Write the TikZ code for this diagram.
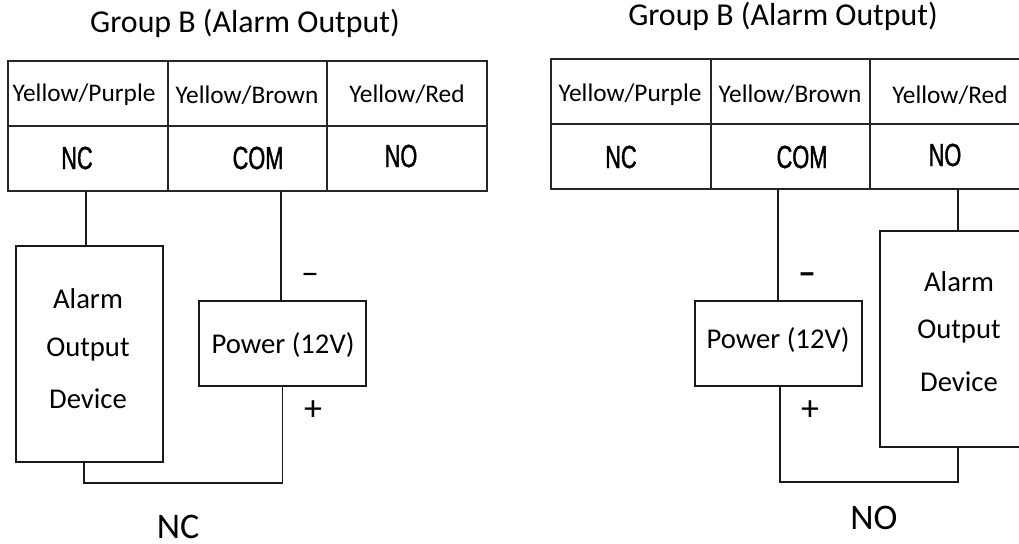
\documentclass[tikz,border=0pt]{standalone}
\usepackage{fontspec}
\setmainfont{Carlito}
\newfontfamily\pinfont[FakeStretch=0.68,FakeBold=1.2]{Liberation Sans}
\tikzset{
    wire/.style={line width=1.4pt,color=black!90},
    cellbox/.style={draw,line width=1.3pt,color=black!85,text=black,inner sep=0pt,outer sep=0pt,minimum width=119.5pt,minimum height=48.75pt},
    devicebox/.style={draw,line width=1.3pt,color=black!90,text=black,inner sep=0pt,outer sep=0pt},
    alarmbox/.style={devicebox,minimum width=110.25pt,minimum height=162pt},
    powerbox/.style={devicebox,minimum width=125.25pt,minimum height=63.75pt},
    wirename/.style={font=\fontsize{19pt}{22pt}\selectfont,inner sep=0pt},
    pinname/.style={font=\fontsize{24pt}{28pt}\pinfont,inner sep=0pt},
    titlename/.style={font=\fontsize{23.9pt}{28pt}\selectfont,inner sep=0pt},
    modename/.style={font=\fontsize{27pt}{30pt}\selectfont,inner sep=0pt},
    signname/.style={font=\fontsize{27pt}{30pt}\selectfont,inner sep=0pt},
    devicename/.style={font=\fontsize{21.5pt}{25pt}\selectfont,inner sep=0pt}
}
\begin{document}
\begin{tikzpicture}[x=0.75pt,y=0.75pt,yscale=-1,xscale=1]
    \useasboundingbox (0,0) rectangle (1019,543);
    \clip (0,0) rectangle (1019,543);

    % Left table
    \node [cellbox] (cellPurpleA) at (88,93.5) {};
    \node [cellbox] (cellBrownA) at (247.5,93.5) {};
    \node [cellbox] (cellRedA) at (407,93.5) {};
    \node [cellbox] (cellNCA) at (88,158.5) {};
    \node [cellbox] (cellCOMA) at (247.5,158.5) {};
    \node [cellbox] (cellNOA) at (407,158.5) {};

    % Right table
    \node [cellbox] (cellPurpleB) at (631,91.5) {};
    \node [cellbox] (cellBrownB) at (790.5,91.5) {};
    \node [cellbox] (cellRedB) at (950,91.5) {};
    \node [cellbox] (cellNCB) at (631,156.5) {};
    \node [cellbox] (cellCOMB) at (790.5,156.5) {};
    \node [cellbox] (cellNOB) at (950,156.5) {};

    % Boxes
    \node [alarmbox] (alarmA) at (89.5,354) {};
    \node [powerbox] (powerA) at (282.5,343.5) {};
    \node [alarmbox,minimum width=117pt] (alarmB) at (958,339) {};
    \node [powerbox] (powerB) at (778.5,343.5) {};

    % Left wires
    \draw [wire] ([xshift=-1.5pt]cellNCA.south) -- ([xshift=-2.6pt]alarmA.north);
    \draw [wire] ([xshift=25.1pt]cellCOMA.south) -- ([xshift=-1.1pt]powerA.north);
    \draw [wire] (powerA.south) -- ++(0,97) -| ([xshift=-4.1pt]alarmA.south);

    % Right wires
    \draw [wire] ([xshift=-9.4pt]cellCOMB.south) -- ([xshift=-0.4pt]powerB.north);
    \draw [wire] ([xshift=6pt]cellNOB.south) -- (alarmB.north);
    \draw [wire] ([xshift=1.1pt]powerB.south) -- ++(0,96) -| (alarmB.south);

    % Text Node
    \node [titlename] (titleA) at (245,23) {Group B (Alarm Output)};
    \node [titlename] (titleB) at (783,16) {Group B (Alarm Output)};
    \node [wirename] (textPurpleA) at (84,95) {Yellow/Purple};
    \node [wirename] (textBrownA) at (247,95) {Yellow/Brown};
    \node [wirename] (textRedA) at (407,94) {Yellow/Red};
    \node [pinname] (textNCA) at (77,158) {NC};
    \node [pinname] (textCOMA) at (258,158) {COM};
    \node [pinname] (textNOA) at (401,156) {NO};
    \node [wirename] (textPurpleB) at (630,95) {Yellow/Purple};
    \node [wirename] (textBrownB) at (790,94) {Yellow/Brown};
    \node [wirename] (textRedB) at (950,95) {Yellow/Red};
    \node [pinname] (textNCB) at (621,157) {NC};
    \node [pinname] (textCOMB) at (802,157) {COM};
    \node [pinname] (textNOB) at (945,155) {NO};
    \node [devicename] (lineAlarmA) at (88,299) {Alarm};
    \node [devicename] (lineOutputA) at (88,349) {Output};
    \node [devicename] (lineDeviceA) at (88,399) {Device};
    \node [devicename] (lineAlarmB) at (959,282) {Alarm};
    \node [devicename] (lineOutputB) at (959,332) {Output};
    \node [devicename] (lineDeviceB) at (959,382) {Device};
    \node [devicename] (textPowerA) at (283,345) {Power (12V)};
    \node [devicename] (textPowerB) at (778,340) {Power (12V)};
    \node [signname] (minusA) at (310,279) {--};
    \node [signname] (plusA) at (313,411) {+};
    \node [signname,font=\fontsize{27pt}{30pt}\bfseries] (minusB) at (807,279) {--};
    \node [signname] (plusB) at (810,411) {+};
    \node [modename] (modeA) at (178,527) {NC};
    \node [modename] (modeB) at (874,518) {NO};

\end{tikzpicture}
\end{document}
